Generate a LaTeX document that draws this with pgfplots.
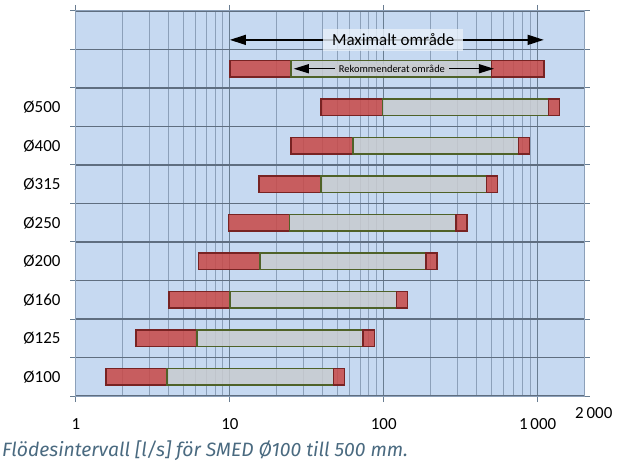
\documentclass[border=0pt]{standalone}
\usepackage{fontspec}
\setmainfont{Carlito}
\newfontfamily\capfont{Fira Sans}
\usepackage{pgfplots}
\pgfplotsset{compat=1.18}
\usetikzlibrary{arrows.meta}
\definecolor{bgblue}{RGB}{198,217,241}
\definecolor{redfill}{RGB}{200,72,70}
\definecolor{greyfill}{RGB}{200,203,207}
\definecolor{redline}{RGB}{120,35,35}
\definecolor{greenline}{RGB}{79,98,40}
\definecolor{rowline}{RGB}{95,110,128}
\definecolor{majgrid}{RGB}{105,125,145}
\definecolor{mingrid}{RGB}{140,160,185}
\definecolor{capcol}{RGB}{74,106,128}
\newcommand{\redseg}[4]{\addplot[draw=redline, line width=1.4bp, fill=redfill, fill opacity=0.85, mark=none] coordinates {(#3,#1) (#4,#1) (#4,#2) (#3,#2)} -- cycle;}
\newcommand{\greyseg}[4]{\addplot[draw=greenline, line width=1.5bp, fill=greyfill, fill opacity=0.85, mark=none] coordinates {(#3,#1) (#4,#1) (#4,#2) (#3,#2)} -- cycle;}
\begin{document}
\begin{tikzpicture}
\useasboundingbox (-76bp,-65bp) rectangle (541bp,396bp);
\begin{axis}[
  at={(0,0)}, anchor=south west,
  scale only axis, width=508bp, height=385bp,
  xmode=log, xmin=1, xmax=2000, ymin=0.5, ymax=10.5,
  axis background/.style={fill=bgblue},
  axis line style={draw=mingrid, line width=1bp},
  /pgf/number format/assume math mode=true,
  font=\fontsize{17}{20}\selectfont,
  tick align=outside,
  major tick length=6bp, minor tick length=0bp,
  tick style={draw=majgrid, line width=1bp},
  xtick={1,10,100,1000}, xticklabels={1,10,100,1\,000},
  minor xtick={2,3,4,5,6,7,8,9,20,30,40,50,60,70,80,90,200,300,400,500,600,700,800,900},
  xmajorgrids, xminorgrids,
  major x grid style={draw=majgrid, line width=1bp},
  minor grid style={draw=mingrid, line width=0.8bp},
  xticklabel style={yshift=-13bp},
  ytick={0.5,1.5,...,10.5}, yticklabels={},
  ymajorgrids,
  major y grid style={draw=rowline, line width=1.6bp},
  extra y ticks={1,2,3,4,5,6,7,8},
  extra y tick labels={Ø100,Ø125,Ø160,Ø200,Ø250,Ø315,Ø400,Ø500},
  extra y tick style={grid=none, major tick length=0bp, yticklabel style={anchor=east, xshift=-12bp}},
]
% example row (y=9)
\redseg{8.79}{9.21}{10}{25}
\greyseg{8.79}{9.21}{25}{500}
\redseg{8.79}{9.21}{500}{1100}
% Ø500
\redseg{7.79}{8.21}{39}{98}
\greyseg{7.79}{8.21}{98}{1180}
\redseg{7.79}{8.21}{1180}{1390}
% Ø400
\redseg{6.79}{7.21}{25}{63}
\greyseg{6.79}{7.21}{63}{750}
\redseg{6.79}{7.21}{750}{885}
% Ø315
\redseg{5.79}{6.21}{15.5}{39}
\greyseg{5.79}{6.21}{39}{465}
\redseg{5.79}{6.21}{465}{550}
% Ø250
\redseg{4.79}{5.21}{9.8}{24.4}
\greyseg{4.79}{5.21}{24.4}{294}
\redseg{4.79}{5.21}{294}{348}
% Ø200
\redseg{3.79}{4.21}{6.25}{15.7}
\greyseg{3.79}{4.21}{15.7}{188}
\redseg{3.79}{4.21}{188}{222}
% Ø160
\redseg{2.79}{3.21}{4.03}{10}
\greyseg{2.79}{3.21}{10}{121}
\redseg{2.79}{3.21}{121}{142}
% Ø125
\redseg{1.79}{2.21}{2.45}{6.1}
\greyseg{1.79}{2.21}{6.1}{73.3}
\redseg{1.79}{2.21}{73.3}{87}
% Ø100
\redseg{0.79}{1.21}{1.57}{3.91}
\greyseg{0.79}{1.21}{3.91}{47}
\redseg{0.79}{1.21}{47}{55.4}
% annotations
\draw[line width=1.3bp, {Triangle[length=16bp,width=10bp]}-{Triangle[length=16bp,width=10bp]}] (axis cs:10,9.75) -- (axis cs:1095,9.75);
\node[fill=white!60!bgblue, fill opacity=0.8, text opacity=1, inner xsep=9bp, inner ysep=5bp, font=\fontsize{17}{20}\selectfont] at (axis cs:115,9.75) {Maximalt område};
\draw[line width=1.2bp, {Triangle[length=15bp,width=9bp]}-{Triangle[length=15bp,width=9bp]}] (axis cs:26,9) -- (axis cs:520,9);
\node[fill=greyfill, inner xsep=4bp, inner ysep=1bp, font=\fontsize{10.5}{12}\selectfont] at (axis cs:113,9) {Rekommenderat område};
\end{axis}
\node[anchor=base west, inner sep=0pt] at (499bp,-22bp) {\fontsize{17}{20}\selectfont 2\,000};
\node[anchor=west, font=\capfont\itshape\fontsize{19.4}{22}\selectfont, text=capcol, inner sep=0pt] at (-74bp,-55bp) {Flödesintervall [l/s] för SMED Ø100 till 500 mm.};
\end{tikzpicture}
\end{document}
